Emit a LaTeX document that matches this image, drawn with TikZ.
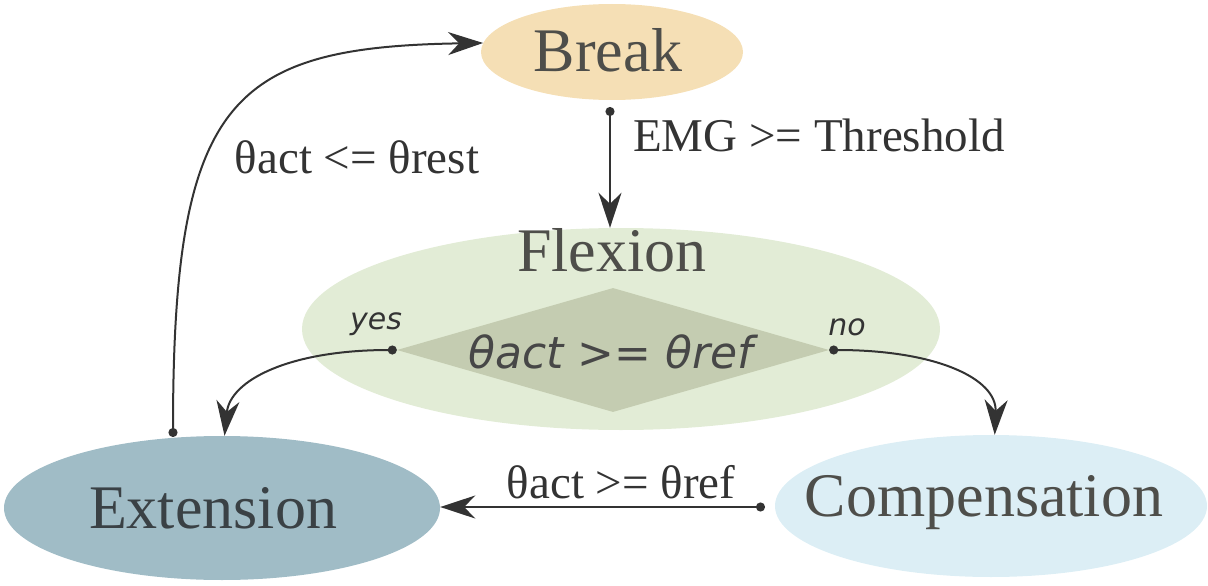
\documentclass[tikz,border=0pt]{standalone}
\usepackage{fontspec}
\setmainfont{Liberation Serif}
\newfontfamily\labelsans{DejaVu Sans}
\usetikzlibrary{shapes.geometric,arrows.meta}

\definecolor{breakfill}{HTML}{F5DFB5}
\definecolor{flexfill}{HTML}{E2ECD6}
\definecolor{diafill}{HTML}{C4CCB1}
\definecolor{extfill}{HTML}{A0BCC6}
\definecolor{compfill}{HTML}{DCEEF5}
\definecolor{linecol}{HTML}{333333}
\definecolor{statetext}{HTML}{4E4E4A}
\definecolor{exttext}{HTML}{3A4145}

\tikzset{
  state/.style={ellipse, inner sep=0pt, text=statetext,
    font=\fontsize{62}{62}\selectfont},
  cond/.style={text=linecol, inner sep=0pt, font=\fontsize{47}{47}\selectfont},
  branch/.style={text=linecol, inner sep=0pt, font=\labelsans\itshape\fontsize{30}{30}\selectfont},
  link/.style={draw=linecol, line width=2pt,
    {Circle[length=9pt]}-{Stealth[length=35pt,width=23pt,inset=11pt]}},
}

\begin{document}
\begin{tikzpicture}[x=1pt,y=-1pt]
\useasboundingbox (0,0) rectangle (1208,586);

% states
\node[state, fill=breakfill, minimum width=262pt, minimum height=96pt] (brk) at (612,52) {};
\node[state] (brkt) at (608,50) {Break};
\node[state, fill=flexfill, minimum width=638pt, minimum height=202pt] (flex) at (621,329) {};
\node[state] (flext) at (612,250) {Flexion};
\node[diamond, fill=diafill, inner sep=0pt, minimum width=432pt, minimum height=124pt] (dia) at (613,350) {};
\node[text=linecol!90, inner sep=0pt, font=\labelsans\itshape\fontsize{44}{44}\selectfont] (diat) at (611,352) {θact >= θref};
\node[state, fill=extfill, minimum width=436pt, minimum height=144pt] (ext) at (222,508) {};
\node[state, text=exttext] (extt) at (213,508) {Extension};
\node[state, fill=compfill, minimum width=432pt, minimum height=142pt] (comp) at (991,506) {};
\node[state] (compt) at (984,503) {Compensation};

% branch labels
\node[branch] (yes) at (376,324) {yes};
\node[branch] (no) at (847,327) {no};

% dot positions where links start
\coordinate (brkdot) at (610,107);
\coordinate (yesdot) at (dia.west);
\coordinate (nodot) at (dia.east);
\coordinate (compdot) at (765,507);
\coordinate (extdot) at (173,437);

% transitions
\draw[link] (brkdot) -- (flex.north -| brkdot);
\draw[link] (extdot) .. controls (173,100) and (230,47) .. (brk.176);
\draw[link] (yesdot) .. controls (290,350) and (230,380) .. (ext.88);
\draw[link] (nodot) .. controls (935,350) and (997,378) .. (comp.87);
\draw[link] (compdot) -- (ext.east |- compdot);

% transition labels
\node[cond, anchor=west] (emg) at (633,135) {EMG >= Threshold};
\node[cond] (rest) at (357,157) {θact <= θrest};
\node[cond] (ref) at (621,482) {θact >= θref};
\end{tikzpicture}
\end{document}
